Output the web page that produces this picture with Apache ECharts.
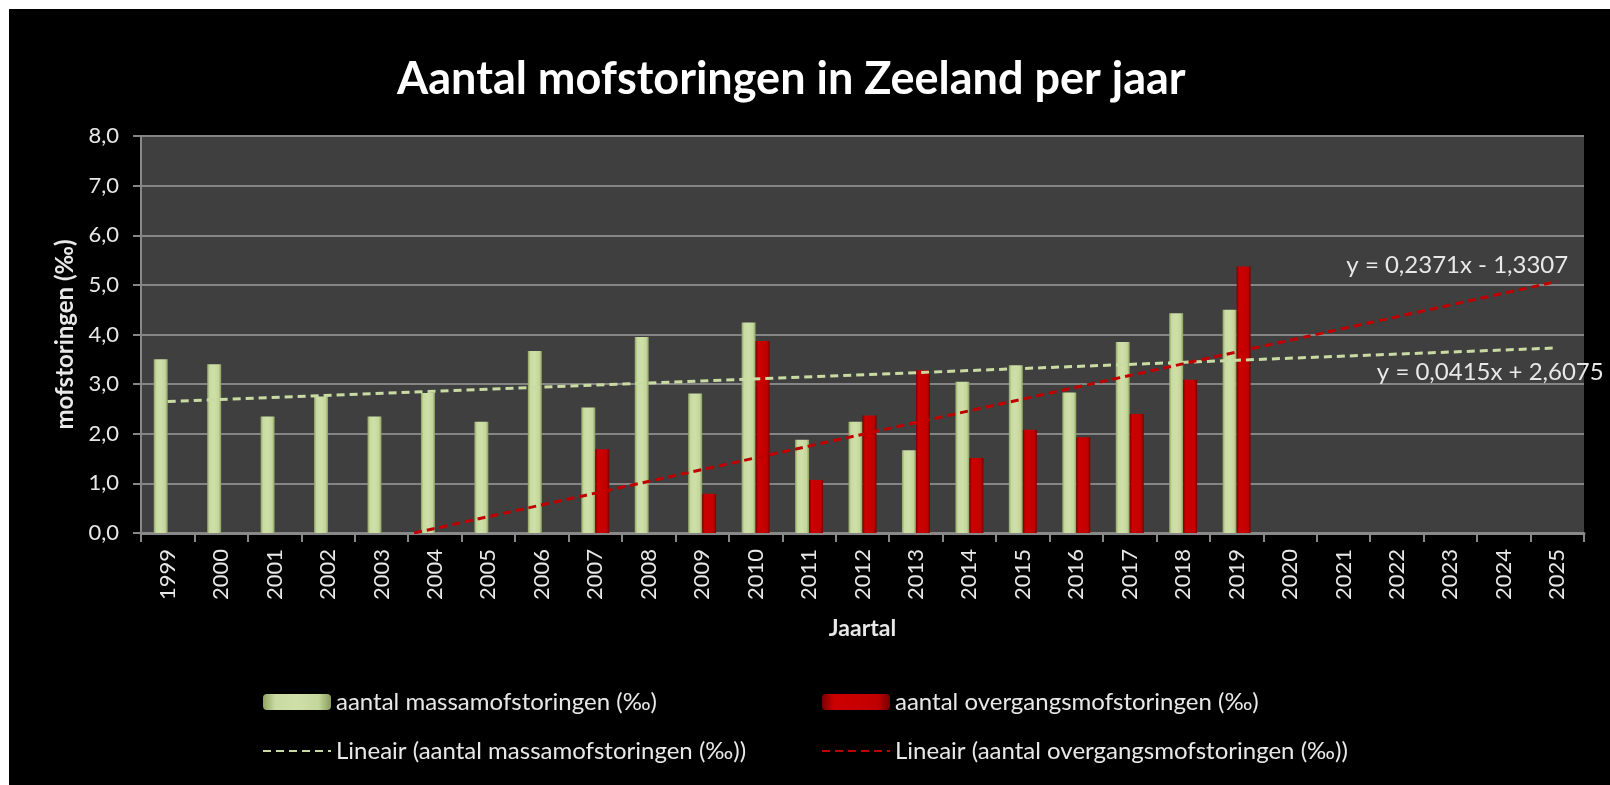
<!DOCTYPE html>
<html><head><meta charset="utf-8">
<script src="https://cdn.jsdelivr.net/npm/echarts@6/dist/echarts.min.js"></script>
<style>html,body{margin:0;background:#fff;width:1610px;height:785px;overflow:hidden;}#c{position:absolute;left:9px;top:9px;width:1601px;height:776px;}</style>
</head><body><div id="c"></div>
<script>
// ---- data ----
const years = ['1999','2000','2001','2002','2003','2004','2005','2006','2007','2008','2009','2010','2011','2012','2013','2014','2015','2016','2017','2018','2019','2020','2021','2022','2023','2024','2025'];
const massa = [3.5,3.4,2.35,2.75,2.35,2.82,2.24,3.67,2.53,3.95,2.81,4.24,1.88,2.24,1.67,3.05,3.38,2.83,3.85,4.43,4.5,null,null,null,null,null,null];
const overgang = [null,null,null,null,null,null,null,null,1.69,null,0.79,3.87,1.07,2.37,3.28,1.51,2.08,1.93,2.40,3.09,5.37,null,null,null,null,null,null];
// trend line endpoints (x = category position 1..27)
const trendMassa = [[1,2.65],[27,3.73]];
const trendOvergang = [[5.61,0],[27,5.07]];
const eqMassa = 'y = 0,0415x + 2,6075';
const eqOvergang = 'y = 0,2371x - 1,3307';

const FONT = 'Lato, "Liberation Sans", sans-serif';
const TXT = '#e8e8e8';
const names = ['aantal massamofstoringen (‰)','aantal overgangsmofstoringen (‰)','Lineair (aantal massamofstoringen (‰))','Lineair (aantal overgangsmofstoringen (‰))'];

const greenGrad = new echarts.graphic.LinearGradient(0,0,1,0,[
  {offset:0,color:'#8fa362'},{offset:0.18,color:'#c9dba2'},{offset:0.5,color:'#cfdfa8'},{offset:0.82,color:'#c3d69b'},{offset:1,color:'#8a9d5e'}]);
const redGrad = new echarts.graphic.LinearGradient(0,0,1,0,[
  {offset:0,color:'#7a0000'},{offset:0.18,color:'#cc0000'},{offset:0.5,color:'#c80000'},{offset:0.82,color:'#c00000'},{offset:1,color:'#760000'}]);

const legendText = {color:TXT, fontFamily:FONT, fontSize:24, lineHeight:28};
const chart = echarts.init(document.getElementById('c'), null, {renderer:'canvas'});
chart.setOption({
  backgroundColor:'#000',
  animation:false,
  title:{text:'Aantal mofstoringen in Zeeland per jaar', left:388, top:48, padding:0,
    textStyle:{color:'#fff', fontFamily:FONT, fontWeight:'bold', fontSize:45}},
  legend:[
    {data:[names[0],{name:names[2], itemStyle:{opacity:0}}], orient:'vertical', left:253, top:679, padding:0,
      itemWidth:68, itemHeight:16, itemGap:21, textStyle:legendText},
    {data:[names[1],{name:names[3], itemStyle:{opacity:0}}], orient:'vertical', left:812, top:679, padding:0,
      itemWidth:68, itemHeight:16, itemGap:21, textStyle:legendText}
  ],
  grid:{left:132, top:127, right:26, height:397, show:true, backgroundColor:'#3f3f3f', borderWidth:0},
  xAxis:[
    {type:'category', data:years, boundaryGap:true,
      name:'Jaartal', nameLocation:'middle', nameGap:84,
      nameTextStyle:{color:TXT, fontFamily:FONT, fontWeight:'bold', fontSize:23},
      axisLine:{lineStyle:{color:'#888', width:3}},
      axisTick:{show:true, length:9, lineStyle:{color:'#888', width:2}},
      axisLabel:{rotate:90, color:TXT, fontFamily:FONT, fontSize:22, margin:16}},
    {type:'value', min:0.5, max:27.5, show:false}
  ],
  yAxis:{type:'value', min:0, max:8, interval:1,
    name:'mofstoringen (‰)', nameLocation:'middle', nameGap:64,
    nameTextStyle:{color:TXT, fontFamily:FONT, fontWeight:'bold', fontSize:24},
    axisLine:{show:true, lineStyle:{color:'#888', width:2}},
    axisTick:{show:true, length:8, lineStyle:{color:'#888', width:2}},
    splitLine:{lineStyle:{color:'#858585', width:2}},
    axisLabel:{color:TXT, fontFamily:FONT, fontSize:22, margin:22,
      formatter:v=>v.toFixed(1).replace('.',',')}},
  series:[
    {name:names[0], type:'bar', data:massa, barWidth:14, barGap:'0%', itemStyle:{color:greenGrad}},
    {name:names[1], type:'bar', data:overgang, barWidth:14, barGap:'0%', itemStyle:{color:redGrad}},
    {name:names[2], type:'line', xAxisIndex:1, data:trendMassa, symbol:'none', z:5,
      lineStyle:{color:'#c9dba2', width:3, type:[8,5]}, itemStyle:{color:'#c9dba2'},
      markPoint:{symbol:'circle', symbolSize:1, itemStyle:{color:'rgba(0,0,0,0)'},
        label:{show:true, formatter:eqMassa, position:'inside', offset:[-67,24], color:TXT, fontFamily:FONT, fontSize:24},
        data:[{coord:trendMassa[1]}]}},
    {name:names[3], type:'line', xAxisIndex:1, data:trendOvergang, symbol:'none', z:5,
      lineStyle:{color:'#c00000', width:3, type:[8,5]}, itemStyle:{color:'#c00000'},
      markPoint:{symbol:'circle', symbolSize:1, itemStyle:{color:'rgba(0,0,0,0)'},
        label:{show:true, formatter:eqOvergang, position:'inside', offset:[-100,-16], color:TXT, fontFamily:FONT, fontSize:24},
        data:[{coord:trendOvergang[1]}]}}
  ]
});
</script></body></html>
